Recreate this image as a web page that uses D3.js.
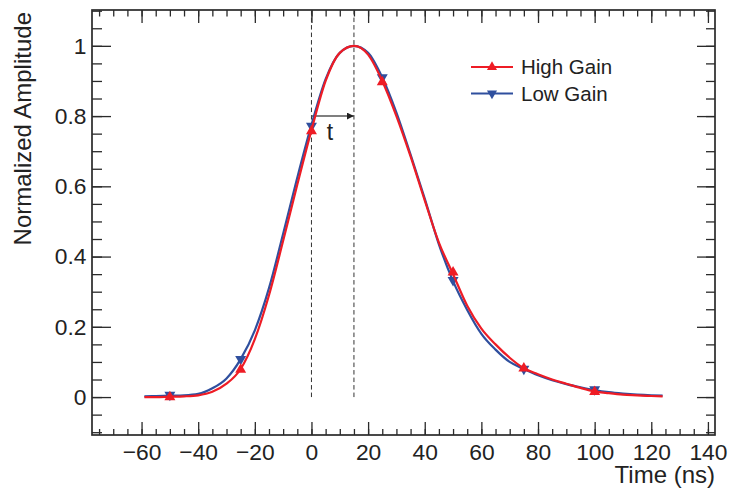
<!DOCTYPE html>
<html>
<head>
<meta charset="utf-8">
<script src="https://cdn.jsdelivr.net/npm/d3@7"></script>
<style>
  body { margin: 0; background: #fff; }
  text { font-family: "Liberation Sans", Arial, sans-serif; fill: #222; }
</style>
</head>
<body>
<script>
// curve samples (ns)
var curveTime = [-59, -55, -50, -45, -40, -35, -30, -25, -20, -15, -10, -5, 0, 5, 10, 15, 20, 25, 30, 35, 40, 45, 50, 55, 60, 65, 70, 75, 80, 85, 90, 95, 100, 105, 110, 115, 120, 124]
var highCurve = [0.0, 0.0, 0.001, 0.002, 0.005, 0.015, 0.038, 0.08, 0.165, 0.29, 0.445, 0.605, 0.76, 0.9, 0.98, 1.0, 0.975, 0.9, 0.8, 0.685, 0.56, 0.44, 0.35, 0.26, 0.195, 0.15, 0.112, 0.082, 0.065, 0.05, 0.038, 0.026, 0.016, 0.011, 0.007, 0.005, 0.003, 0.002]
var lowCurve = [0.002, 0.003, 0.004, 0.005, 0.009, 0.025, 0.053, 0.108, 0.19, 0.31, 0.465, 0.625, 0.775, 0.905, 0.98, 1.0, 0.98, 0.91, 0.81, 0.69, 0.565, 0.435, 0.33, 0.248, 0.18, 0.135, 0.1, 0.08, 0.062, 0.048, 0.037, 0.028, 0.02, 0.014, 0.01, 0.007, 0.005, 0.004]

// sampled points
var sampleTime = [-50, -25, 0, 25, 50, 75, 100]
var highPoints = [0.0, 0.078, 0.757, 0.897, 0.355, 0.082, 0.015]
var lowPoints = [0.006, 0.108, 0.772, 0.91, 0.333, 0.08, 0.022]

var seriesNames = ["High Gain", "Low Gain"]
var seriesColors = ["#ee1c25", "#2f4f9e"]

var xTicks = [-60, -40, -20, 0, 20, 40, 60, 80, 100, 120, 140]
var yTicks = [0, 0.2, 0.4, 0.6, 0.8, 1]
var xMinor = d3.range(-75, 141, 5)
var yMinor = d3.range(-10, 111, 5).map(d => d / 100)

// markers for the delay t
var peakTime = 15
var arrowLevel = 0.8

var W = 729, H = 491
var pLeft = 92, pRight = 715, pTop = 10, pBottom = 435

var x = d3.scaleLinear().domain([-77.5, 142.5]).range([pLeft, pRight])
var y = d3.scaleLinear().domain([-0.108, 1.102]).range([pBottom, pTop])

var svg = d3.select("body").append("svg")
  .attr("width", W)
  .attr("height", H)

var defs = svg.append("defs")
defs.append("marker")
  .attr("id", "head")
  .attr("viewBox", "0 0 10 10")
  .attr("refX", 10).attr("refY", 5)
  .attr("markerWidth", 7).attr("markerHeight", 7)
  .attr("markerUnits", "userSpaceOnUse")
  .attr("orient", "auto")
  .append("path")
  .attr("d", "M0,0L10,5L0,10z")
  .attr("fill", "#222")

// axes, ticks pointing inward
function styleAxis(g) {
  g.select(".domain").remove()
  g.selectAll(".tick line").attr("stroke", "#2a2a2a").attr("stroke-width", 1.3)
  g.selectAll(".tick text").style("font-size", "22.8px").attr("fill", "#222")
}

var fmtY = d => String(+d.toFixed(1))

svg.append("g")
  .attr("transform", "translate(0," + pBottom + ")")
  .call(d3.axisBottom(x).tickValues(xMinor).tickSizeInner(-6).tickSizeOuter(0).tickFormat(""))
  .call(styleAxis)
svg.append("g")
  .attr("transform", "translate(0," + pBottom + ")")
  .call(d3.axisBottom(x).tickValues(xTicks).tickSizeInner(-13).tickSizeOuter(0).tickPadding(8.5))
  .call(styleAxis)

svg.append("g")
  .attr("transform", "translate(0," + pTop + ")")
  .call(d3.axisTop(x).tickValues(xMinor).tickSizeInner(-6.5).tickSizeOuter(0).tickFormat(""))
  .call(styleAxis)
svg.append("g")
  .attr("transform", "translate(0," + pTop + ")")
  .call(d3.axisTop(x).tickValues(xTicks).tickSizeInner(-13).tickSizeOuter(0).tickFormat(""))
  .call(styleAxis)

svg.append("g")
  .attr("transform", "translate(" + pLeft + ",0)")
  .call(d3.axisLeft(y).tickValues(yMinor).tickSizeInner(-10).tickSizeOuter(0).tickFormat(""))
  .call(styleAxis)
svg.append("g")
  .attr("transform", "translate(" + pLeft + ",0)")
  .call(d3.axisLeft(y).tickValues(yTicks).tickSizeInner(-19).tickSizeOuter(0).tickPadding(5.5).tickFormat(fmtY))
  .call(styleAxis)

svg.append("g")
  .attr("transform", "translate(" + pRight + ",0)")
  .call(d3.axisRight(y).tickValues(yMinor).tickSizeInner(-9).tickSizeOuter(0).tickFormat(""))
  .call(styleAxis)
svg.append("g")
  .attr("transform", "translate(" + pRight + ",0)")
  .call(d3.axisRight(y).tickValues(yTicks).tickSizeInner(-18).tickSizeOuter(0).tickFormat(""))
  .call(styleAxis)

svg.append("rect")
  .attr("x", pLeft).attr("y", pTop)
  .attr("width", pRight - pLeft).attr("height", pBottom - pTop)
  .attr("fill", "none")
  .attr("stroke", "#2a2a2a")
  .attr("stroke-width", 1.7)

// axis titles
svg.append("text")
  .attr("x", pRight)
  .attr("y", 483)
  .attr("text-anchor", "end")
  .style("font-size", "24px")
  .text("Time (ns)")

svg.append("text")
  .attr("transform", "translate(31,12) rotate(-90)")
  .attr("text-anchor", "end")
  .style("font-size", "24px")
  .text("Normalized Amplitude")

// dashed guides at t=0 and at the peak
svg.selectAll(".guide")
  .data([0, peakTime])
  .enter().append("line")
  .attr("class", "guide")
  .attr("x1", d => x(d)).attr("x2", d => x(d))
  .attr("y1", y(0)).attr("y2", pTop)
  .attr("stroke", "#333")
  .attr("stroke-width", 1)
  .attr("stroke-dasharray", "4.5,3")

svg.append("line")
  .attr("x1", x(0)).attr("x2", x(peakTime))
  .attr("y1", y(arrowLevel)).attr("y2", y(arrowLevel))
  .attr("stroke", "#555")
  .attr("stroke-width", 1.5)
  .attr("marker-end", "url(#head)")

svg.append("text")
  .attr("x", x(6.5))
  .attr("y", y(0.732))
  .attr("text-anchor", "middle")
  .style("font-size", "23px")
  .text("t")

// curves + points
var line = d3.line()
  .x(d => x(d[0]))
  .y(d => y(d[1]))
  .curve(d3.curveMonotoneX)

var series = [
  {color: seriesColors[1], curve: lowCurve, pts: lowPoints, flip: true},
  {color: seriesColors[0], curve: highCurve, pts: highPoints, flip: false}
]

var tri = d3.symbol().type(d3.symbolTriangle).size(52)

series.forEach(function(s) {
  svg.append("path")
    .datum(curveTime.map((t, i) => [t, s.curve[i]]))
    .attr("d", line)
    .attr("fill", "none")
    .attr("stroke", s.color)
    .attr("stroke-width", 2.2)

  svg.selectAll(null)
    .data(sampleTime.map((t, i) => [t, s.pts[i]]))
    .enter().append("path")
    .attr("d", tri)
    .attr("fill", s.color)
    .attr("transform", d => "translate(" + x(d[0]) + "," + y(d[1]) + ")" + (s.flip ? " rotate(180)" : ""))
})

// legend
var legend = svg.append("g")
  .attr("transform", "translate(471,67)")

seriesNames.forEach(function(name, i) {
  var g = legend.append("g").attr("transform", "translate(0," + (i * 26.5) + ")")
  g.append("line")
    .attr("x1", 0).attr("x2", 42)
    .attr("stroke", seriesColors[i])
    .attr("stroke-width", 2.2)
  g.append("path")
    .attr("d", d3.symbol().type(d3.symbolTriangle).size(44))
    .attr("fill", seriesColors[i])
    .attr("transform", "translate(21,0)" + (i == 1 ? " rotate(180)" : ""))
  g.append("text")
    .attr("x", 50)
    .attr("y", 7)
    .style("font-size", "20.5px")
    .text(name)
})
</script>
</body>
</html>
